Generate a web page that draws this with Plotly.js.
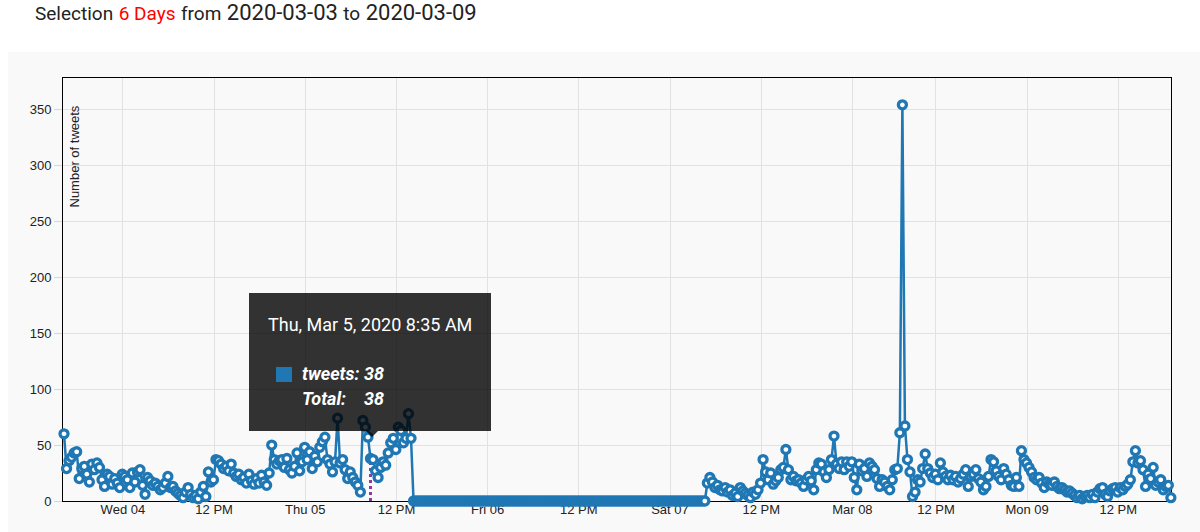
<!DOCTYPE html>
<html>
<head>
<meta charset="utf-8">
<script src="https://cdn.plot.ly/plotly-3.0.1.min.js"></script>
<style>
  html, body { margin:0; padding:0; background:#ffffff; width:1200px; height:532px; overflow:hidden; }
  #hdr { position:absolute; left:35px; top:0; font-family:Roboto, "Noto Sans", sans-serif; font-size:22px; line-height:26px; color:#222; white-space:nowrap; }
  #hdr .s { font-size:19px; }
  #hdr .r { font-size:19px; color:#ff0000; }
  #chart { position:absolute; left:8px; top:52px; width:1192px; height:480px; }
</style>
</head>
<body>
<div id="hdr"><span class="s">Selection</span> <span class="r">6 Days</span> <span class="s">from</span> 2020-03-03 <span class="s">to</span> 2020-03-09</div>
<div id="chart"></div>
<script>
// ---- data (times in fixed UTC-5 clock, 20-minute bins) ----
const binMinutes = 20;
const seg1Start = '2020-03-03 16:15';
const seg1Values = [60,29,36,39,43,44,20,29,31,24,17,33,28,34,30,19,13,24,22,15,20,16,12,24,
  22,19,12,25,17,26,28,14,6,21,18,14,16,13,10,12,16,22,12,13,9,7,5,3,8,12,6,3,5,2,8,13,4,26,17,19,
  37,36,33,29,31,27,33,25,22,24,19,21,16,24,18,15,20,16,23,17,14,25,50,37,33,36,37,30,38,28,25,31,43,27,35,48,
  37,44,29,40,35,48,53,57,37,33,26,35,74,34,37,28,20,26,21,17,14,8,72,66,57,38,37,27,21,30,35,32,43,52,56,46,66,63,52,56,78,56];
// period with no tweets recorded (value 0 in every bin)
const zeroStart = '2020-03-05 14:15';
const zeroEnd = '2020-03-07 04:35';
const zeroValue = 0;
const seg2Start = '2020-03-07 04:55';
const seg2Values = [16,21,17,12,14,10,9,12,8,10, 5,7,4,12,9,7,5,3,8,6, 10,16,37,26,19,25,15,18,21,28,
  30,46,28,19,22,18,19,16,13,19, 22,18,10,28,34,33,26,21,28,37, 58,33,29,35,28,35,31,35,21,10,
  33,27,29,22,34,31,28,20,13,19, 17,13,10,19,28,29,61,354,67,37, 26,4,8,19,17,29,42,29,25,21,
  24,19,34,26,22,19,23,19,22,17, 20,24,28,13,22,24,28,20,17,10, 13,22,37,35,27,22,19,29,24,19,
  14,13,21,13,45,37,34,30,26,21, 19,21,16,12,17,15,14,17,13,11, 12,10,8,9,7,5,3,5,2,4,
  5,3,6,3,8,11,12,6,4,9, 11,12,8,12,10,13,15,19,35,45, 34,36,28,13,24,20,30,14,17,19, 10,13,14,3];

const xRange = ['2020-03-03 16:07', '2020-03-09 17:56'];
const yRange = [0, 378];
const yTickVals = [0, 50, 100, 150, 200, 250, 300, 350];
const xTickVals = ['2020-03-04 00:00','2020-03-04 12:00','2020-03-05 00:00','2020-03-05 12:00',
  '2020-03-06 00:00','2020-03-06 12:00','2020-03-07 00:00','2020-03-07 12:00',
  '2020-03-08 00:00','2020-03-08 11:00','2020-03-08 23:00','2020-03-09 11:00'];
const xTickLabels = ['Wed 04','12 PM','Thu 05','12 PM','Fri 06','12 PM','Sat 07','12 PM','Mar 08','12 PM','Mon 09','12 PM'];

// hovered point shown in the tooltip
const hoverTime = '2020-03-05 08:35';
const hoverLabel = 'Thu, Mar 5, 2020 8:35 AM';
const hoverSeries = 'tweets';
const hoverValue = 38;
const hoverTotal = 38;

// ---- helpers ----
function parseT(s){ const [d,t]=s.split(' '); const [Y,M,D]=d.split('-').map(Number); const [h,m]=t.split(':').map(Number); return Date.UTC(Y,M-1,D,h,m); }
function fmtT(ms){ const d=new Date(ms); const p=n=>String(n).padStart(2,'0');
  return d.getUTCFullYear()+'-'+p(d.getUTCMonth()+1)+'-'+p(d.getUTCDate())+' '+p(d.getUTCHours())+':'+p(d.getUTCMinutes()); }
const step = binMinutes*60000;
const xs = [], ys = [];
seg1Values.forEach((v,i)=>{ xs.push(fmtT(parseT(seg1Start)+i*step)); ys.push(v); });
for (let t=parseT(zeroStart); t<=parseT(zeroEnd); t+=step){ xs.push(fmtT(t)); ys.push(zeroValue); }
seg2Values.forEach((v,i)=>{ xs.push(fmtT(parseT(seg2Start)+i*step)); ys.push(v); });

const blue = '#1f77b4';
const trace = {
  x: xs, y: ys, type:'scatter', mode:'lines+markers', name: hoverSeries,
  line:{color:blue, width:2.5},
  marker:{symbol:'circle', size:8, color:'#ffffff', line:{color:blue, width:3.3}},
  cliponaxis:false, hoverinfo:'skip'
};

// plot area in page pixels: x 63..1171, y 78..501
const PX0=63, PW=1108, PY1=501, PH=423;
const px = x => (x-PX0)/PW;
const py = y => (PY1-y)/PH;

const tickFont = {family:'"Liberation Sans", Arial, Helvetica, sans-serif', size:13, color:'#222'};
const tipFont = {family:'Roboto, "Noto Sans", sans-serif', size:18, color:'#ffffff'};
const tipBold = {family:'Roboto, "Noto Sans", sans-serif', size:18, color:'#ffffff', weight:'bold', style:'italic'};

const layout = {
  width:1192, height:480,
  margin:{l:55, r:29, t:26, b:31, pad:0},
  paper_bgcolor:'#f9f9f9', plot_bgcolor:'#f9f9f9',
  showlegend:false,
  xaxis:{type:'date', range:xRange, tickmode:'array', tickvals:xTickVals, ticktext:xTickLabels,
    showgrid:true, gridcolor:'#e2e2e2', gridwidth:1, showline:true, linecolor:'#000', linewidth:1, mirror:true,
    ticks:'', ticklabelstandoff:-4, zeroline:false, layer:'below traces', tickfont:tickFont, fixedrange:true},
  yaxis:{range:yRange, tickmode:'array', tickvals:yTickVals,
    showgrid:true, gridcolor:'#e2e2e2', gridwidth:1, showline:true, linecolor:'#000', linewidth:1, mirror:true,
    ticks:'outside', ticklen:8, tickcolor:'#d6d6d6', zeroline:false, layer:'below traces', tickfont:tickFont, fixedrange:true},
  shapes:[
    {type:'line', xref:'x', yref:'y', x0:hoverTime, x1:hoverTime, y0:0, y1:hoverValue, layer:'below',
      line:{color:'#8a3aa0', width:3, dash:'dot'}},
    {type:'rect', xref:'paper', yref:'paper', x0:px(249), x1:px(491), y0:py(431), y1:py(293), layer:'above',
      fillcolor:'rgba(0,0,0,0.8)', line:{width:0}},
    {type:'path', xref:'paper', yref:'paper', layer:'above',
      path:'M '+px(366)+','+py(431)+' L '+px(378)+','+py(431)+' L '+px(372)+','+py(437)+' Z',
      fillcolor:'rgba(0,0,0,0.8)', line:{width:0}},
    {type:'rect', xref:'paper', yref:'paper', x0:px(276), x1:px(292), y0:py(382), y1:py(367), layer:'above',
      fillcolor:blue, line:{width:0}}
  ],
  annotations:[
    {xref:'paper', yref:'paper', x:px(65), y:py(104), xanchor:'left', yanchor:'top', textangle:-90,
      text:'Number of tweets', showarrow:false, font:{family:'"Liberation Sans", Arial, sans-serif', size:13, color:'#222'}},
    {xref:'paper', yref:'paper', x:px(370), y:py(324), xanchor:'center', yanchor:'middle',
      text:hoverLabel, showarrow:false, font:tipFont},
    {xref:'paper', yref:'paper', x:px(300), y:py(373), xanchor:'left', yanchor:'middle',
      text:hoverSeries+':', showarrow:false, font:tipBold},
    {xref:'paper', yref:'paper', x:px(362), y:py(373), xanchor:'left', yanchor:'middle',
      text:String(hoverValue), showarrow:false, font:tipBold},
    {xref:'paper', yref:'paper', x:px(300), y:py(398), xanchor:'left', yanchor:'middle',
      text:'Total:', showarrow:false, font:tipBold},
    {xref:'paper', yref:'paper', x:px(362), y:py(398), xanchor:'left', yanchor:'middle',
      text:String(hoverTotal), showarrow:false, font:tipBold}
  ]
};

Plotly.newPlot('chart', [trace], layout, {staticPlot:true, displayModeBar:false});
</script>
</body>
</html>
